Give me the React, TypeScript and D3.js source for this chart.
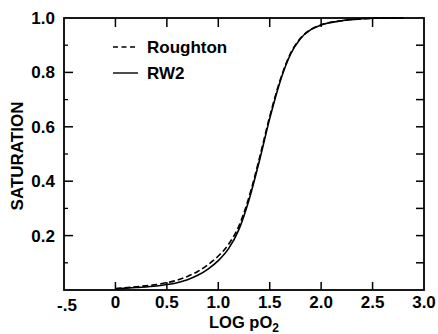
import React from "react";
import * as d3 from "d3";

const logPO2 = [0.0, 0.2, 0.4, 0.5, 0.6, 0.7, 0.8, 0.9, 1.0, 1.1, 1.2, 1.3, 1.4, 1.5, 1.6, 1.7, 1.8, 1.9, 2.0, 2.2, 2.4, 2.6, 2.8];
const rw2 = [0.004, 0.009, 0.015, 0.02, 0.027, 0.038, 0.054, 0.077, 0.108, 0.152, 0.222, 0.333, 0.475, 0.63, 0.765, 0.865, 0.925, 0.957, 0.974, 0.99, 0.997, 1.0, 1.0];
const roughton = [0.005, 0.012, 0.02, 0.027, 0.036, 0.05, 0.068, 0.093, 0.125, 0.168, 0.235, 0.343, 0.485, 0.638, 0.77, 0.868, 0.926, 0.958, 0.975, 0.99, 0.997, 1.0, 1.0];

const xTickVals = [-0.5, 0, 0.5, 1.0, 1.5, 2.0, 2.5, 3.0];
const xTickLabels = ["-.5", "0", "0.5", "1.0", "1.5", "2.0", "2.5", "3.0"];
const yTickVals = [0.2, 0.4, 0.6, 0.8, 1.0];
const yTickLabels = ["0.2", "0.4", "0.6", "0.8", "1.0"];
const yMinorVals = [0.1, 0.3, 0.5, 0.7, 0.9];
const seriesNames = ["Roughton", "RW2"];

const W = 438, H = 334;
const L = 64, R = 424, T = 18, B = 290;

export default function App() {
  const x = d3.scaleLinear().domain([-0.5, 3.0]).range([L, R]);
  const y = d3.scaleLinear().domain([0, 1]).range([B, T]);
  const line = d3.line<number>().x((_, i) => x(logPO2[i])).y((d) => y(d)).curve(d3.curveMonotoneX);
  const font = "'Liberation Sans', Arial, Helvetica, sans-serif";
  const innerX = xTickVals.filter((v) => v > -0.5 && v < 3.0);
  const allY = [...yTickVals.filter((v) => v < 1), ...yMinorVals];
  return (
    <svg width={W} height={H} style={{ position: "absolute", left: 0, top: 0, background: "#fff" }} fontFamily={font}>
      <rect x={0} y={0} width={W} height={H} fill="#fff" />
      <rect x={L} y={T} width={R - L} height={B - T} fill="none" stroke="#000" strokeWidth={1.8} />
      {innerX.map((v) => (
        <g key={"xt" + v}>
          <line x1={x(v)} x2={x(v)} y1={B} y2={B - 8} stroke="#000" strokeWidth={1.5} />
          <line x1={x(v)} x2={x(v)} y1={T} y2={T + 9} stroke="#000" strokeWidth={1.5} />
        </g>
      ))}
      {yTickVals.filter((v) => v < 1).map((v) => (
        <line key={"ly" + v} x1={L} x2={L + 9} y1={y(v)} y2={y(v)} stroke="#000" strokeWidth={1.5} />
      ))}
      {yMinorVals.map((v) => (
        <line key={"lm" + v} x1={L} x2={L + 4} y1={y(v)} y2={y(v)} stroke="#000" strokeWidth={1.3} />
      ))}
      {allY.map((v) => (
        <line key={"ry" + v} x1={R} x2={R - 8} y1={y(v)} y2={y(v)} stroke="#000" strokeWidth={1.5} />
      ))}
      {xTickVals.map((v, i) => (
        <text key={"xl" + v} x={x(v) + (v === -0.5 ? 3 : 0)} y={v === -0.5 ? 311 : 308} textAnchor="middle" fontSize={17} fontWeight="bold">
          {xTickLabels[i]}
        </text>
      ))}
      {yTickVals.map((v, i) => (
        <text key={"yl" + v} x={L - 9} y={y(v) + 6} textAnchor="end" fontSize={17} fontWeight="bold">
          {yTickLabels[i]}
        </text>
      ))}
      <text x={x(1.25)} y={328} textAnchor="middle" fontSize={16.5} fontWeight="bold">
        LOG pO<tspan fontSize={12} dy={4}>2</tspan>
      </text>
      <text transform="translate(23,156) rotate(-90)" textAnchor="middle" fontSize={17} fontWeight="bold">
        SATURATION
      </text>
      <path d={line(roughton) || ""} fill="none" stroke="#000" strokeWidth={1.6} strokeDasharray="6,3" />
      <path d={line(rw2) || ""} fill="none" stroke="#000" strokeWidth={1.6} />
      <line x1={113} x2={138} y1={47} y2={47} stroke="#000" strokeWidth={1.4} strokeDasharray="5,3.5" />
      <text x={147} y={53} fontSize={17} fontWeight="bold">{seriesNames[0]}</text>
      <line x1={113} x2={138} y1={73} y2={73} stroke="#000" strokeWidth={1.4} />
      <text x={147} y={79} fontSize={17} fontWeight="bold">{seriesNames[1]}</text>
    </svg>
  );
}
